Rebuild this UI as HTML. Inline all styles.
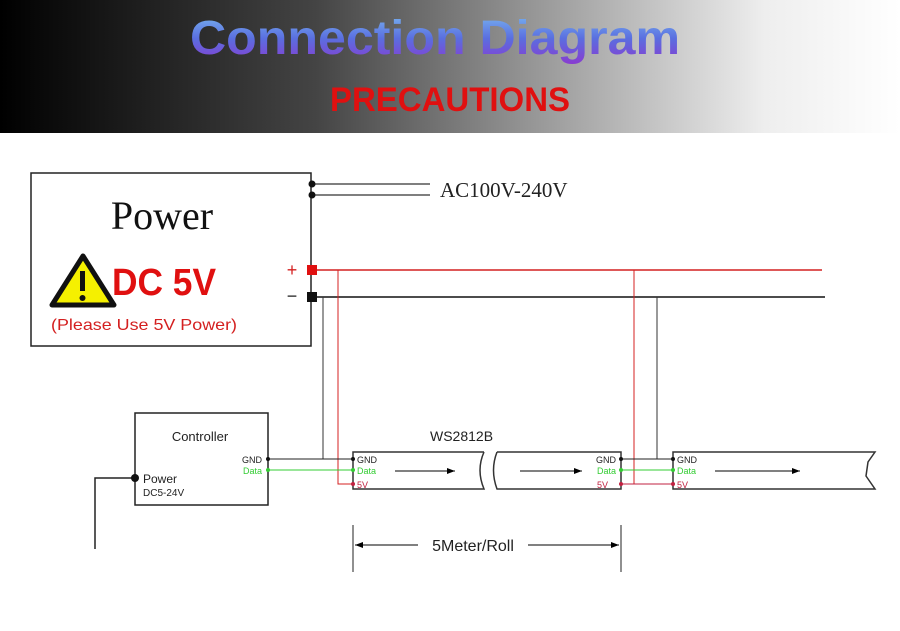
<!DOCTYPE html>
<html><head><meta charset="utf-8"><style>
body{margin:0;background:#fff}
svg{display:block}
</style></head><body>
<svg width="900" height="631" viewBox="0 0 900 631" xmlns="http://www.w3.org/2000/svg">
<defs>
<linearGradient id="hdr" x1="0" x2="1" y1="0" y2="0">
<stop offset="0" stop-color="#000"/><stop offset="0.35" stop-color="#444"/><stop offset="0.65" stop-color="#aaa"/><stop offset="0.85" stop-color="#eee"/><stop offset="1" stop-color="#fff"/>
</linearGradient>
<linearGradient id="tt" x1="0" x2="0" y1="0" y2="1">
<stop offset="0" stop-color="#7ab8f0"/><stop offset="0.5" stop-color="#5a6ee0"/><stop offset="1" stop-color="#8a3ad0"/>
</linearGradient>
<marker id="ar" markerWidth="8" markerHeight="6" refX="8" refY="3" orient="auto" markerUnits="userSpaceOnUse"><path d="M0,0 L8,3 L0,6z" fill="#000"/></marker>
<marker id="al" markerWidth="8" markerHeight="6" refX="0" refY="3" orient="auto" markerUnits="userSpaceOnUse"><path d="M8,0 L0,3 L8,6z" fill="#000"/></marker>
</defs>
<rect x="0" y="0" width="900" height="133" fill="url(#hdr)"/>
<text x="435" y="54" text-anchor="middle" font-family="Liberation Sans Narrow, Liberation Sans, sans-serif" font-weight="bold" font-size="48" fill="url(#tt)" textLength="490" lengthAdjust="spacingAndGlyphs">Connection Diagram</text>
<text x="450" y="111" text-anchor="middle" font-family="Liberation Sans Narrow, Liberation Sans, sans-serif" font-weight="bold" font-size="34" fill="#e01010" textLength="240" lengthAdjust="spacingAndGlyphs">PRECAUTIONS</text>

<g fill="none" stroke-width="1.5">
<rect x="31" y="173" width="280" height="173" stroke="#222"/>
<line x1="312" y1="184" x2="430" y2="184" stroke="#555"/>
<line x1="312" y1="195" x2="430" y2="195" stroke="#555"/>
<line x1="312" y1="270" x2="822" y2="270" stroke="#d42020"/>
<line x1="312" y1="297" x2="825" y2="297" stroke="#111"/>
<polyline points="323,297 323,459" stroke="#333" stroke-width="1"/>
<polyline points="338,270 338,484 353,484" stroke="#d42020" stroke-width="1"/>
<polyline points="634,270 634,484" stroke="#d42020" stroke-width="1"/>
<polyline points="657,297 657,459" stroke="#333" stroke-width="1"/>
<rect x="135" y="413" width="133" height="92" stroke="#222"/>
<polyline points="135,478 95,478 95,549" stroke="#222"/>
<line x1="268" y1="459" x2="353" y2="459" stroke="#222" stroke-width="1"/>
<line x1="268" y1="470" x2="353" y2="470" stroke="#3c3" stroke-width="1"/>
<line x1="621" y1="459" x2="673" y2="459" stroke="#222" stroke-width="1"/>
<line x1="621" y1="470" x2="673" y2="470" stroke="#3c3" stroke-width="1"/>
<line x1="621" y1="484" x2="673" y2="484" stroke="#c02040" stroke-width="1"/>
<path d="M484,452 H353 V489 H484 Q476,470 484,452" stroke="#333"/>
<path d="M497,452 H621 V489 H497 Q490,470 497,452" stroke="#333"/>
<path d="M875,452 H673 V489 H875 L866,476 L868,462 Z" stroke="#333"/>
<line x1="395" y1="471" x2="455" y2="471" stroke="#000" stroke-width="1" marker-end="url(#ar)"/>
<line x1="520" y1="471" x2="582" y2="471" stroke="#000" stroke-width="1" marker-end="url(#ar)"/>
<line x1="715" y1="471" x2="800" y2="471" stroke="#000" stroke-width="1" marker-end="url(#ar)"/>
<line x1="353" y1="525" x2="353" y2="572" stroke="#222" stroke-width="1"/>
<line x1="621" y1="525" x2="621" y2="572" stroke="#222" stroke-width="1"/>
<line x1="355" y1="545" x2="418" y2="545" stroke="#000" stroke-width="1" marker-start="url(#al)"/>
<line x1="528" y1="545" x2="619" y2="545" stroke="#000" stroke-width="1" marker-end="url(#ar)"/>
</g>
<g fill="#111">
<circle cx="312" cy="184" r="3.5"/><circle cx="312" cy="195" r="3.5"/>
<rect x="307" y="292" width="10" height="10"/>
<circle cx="135" cy="478" r="4"/>
<circle cx="268" cy="459" r="2"/><circle cx="353" cy="459" r="2"/><circle cx="621" cy="459" r="2"/><circle cx="673" cy="459" r="2"/>
</g>
<g fill="#3c3"><circle cx="268" cy="470" r="2"/><circle cx="353" cy="470" r="2"/><circle cx="621" cy="470" r="2"/><circle cx="673" cy="470" r="2"/></g>
<g fill="#c02040"><circle cx="353" cy="484" r="2"/><circle cx="621" cy="484" r="2"/><circle cx="673" cy="484" r="2"/></g>
<rect x="307" y="265" width="10" height="10" fill="#e01010"/>
<text x="292" y="276" font-family="Liberation Sans, sans-serif" font-size="18" fill="#d42020" text-anchor="middle">+</text>
<text x="292" y="302" font-family="Liberation Sans, sans-serif" font-size="18" fill="#222" text-anchor="middle">−</text>
<text x="440" y="197" font-family="Liberation Serif, serif" font-size="21" fill="#222">AC100V-240V</text>
<text x="162" y="229" text-anchor="middle" font-family="Liberation Serif, serif" font-size="40" fill="#111">Power</text>
<path d="M83,256 L114,305 L52,305 Z" fill="#f5f000" stroke="#111" stroke-width="5" stroke-linejoin="round"/>
<rect x="80" y="271" width="5" height="20" fill="#111"/><circle cx="82.5" cy="298" r="3" fill="#111"/>
<text x="112" y="295" font-family="Liberation Sans, sans-serif" font-size="38" font-weight="bold" fill="#e01010" textLength="104" lengthAdjust="spacingAndGlyphs">DC 5V</text>
<text x="51" y="330" font-family="Liberation Sans, sans-serif" font-size="16" fill="#d42020" textLength="186" lengthAdjust="spacingAndGlyphs">(Please Use 5V Power)</text>
<g font-family="Liberation Sans, sans-serif">
<text x="200" y="441" text-anchor="middle" font-size="13" fill="#222">Controller</text>
<text x="262" y="463" text-anchor="end" font-size="9" fill="#222">GND</text>
<text x="262" y="474" text-anchor="end" font-size="9" fill="#3c3">Data</text>
<text x="143" y="483" font-size="12" fill="#222">Power</text>
<text x="143" y="496" font-size="10" fill="#222">DC5-24V</text>
<text x="430" y="441" font-size="14" fill="#222">WS2812B</text>
<text x="357" y="463" font-size="9" fill="#222">GND</text>
<text x="357" y="474" font-size="9" fill="#3c3">Data</text>
<text x="357" y="488" font-size="9" fill="#c02040">5V</text>
<text x="616" y="463" text-anchor="end" font-size="9" fill="#222">GND</text>
<text x="616" y="474" text-anchor="end" font-size="9" fill="#3c3">Data</text>
<text x="608" y="488" text-anchor="end" font-size="9" fill="#c02040">5V</text>
<text x="677" y="463" font-size="9" fill="#222">GND</text>
<text x="677" y="474" font-size="9" fill="#3c3">Data</text>
<text x="677" y="488" font-size="9" fill="#c02040">5V</text>
<text x="473" y="551" text-anchor="middle" font-size="16" fill="#222">5Meter/Roll</text>
</g>
</svg>
</body></html>
